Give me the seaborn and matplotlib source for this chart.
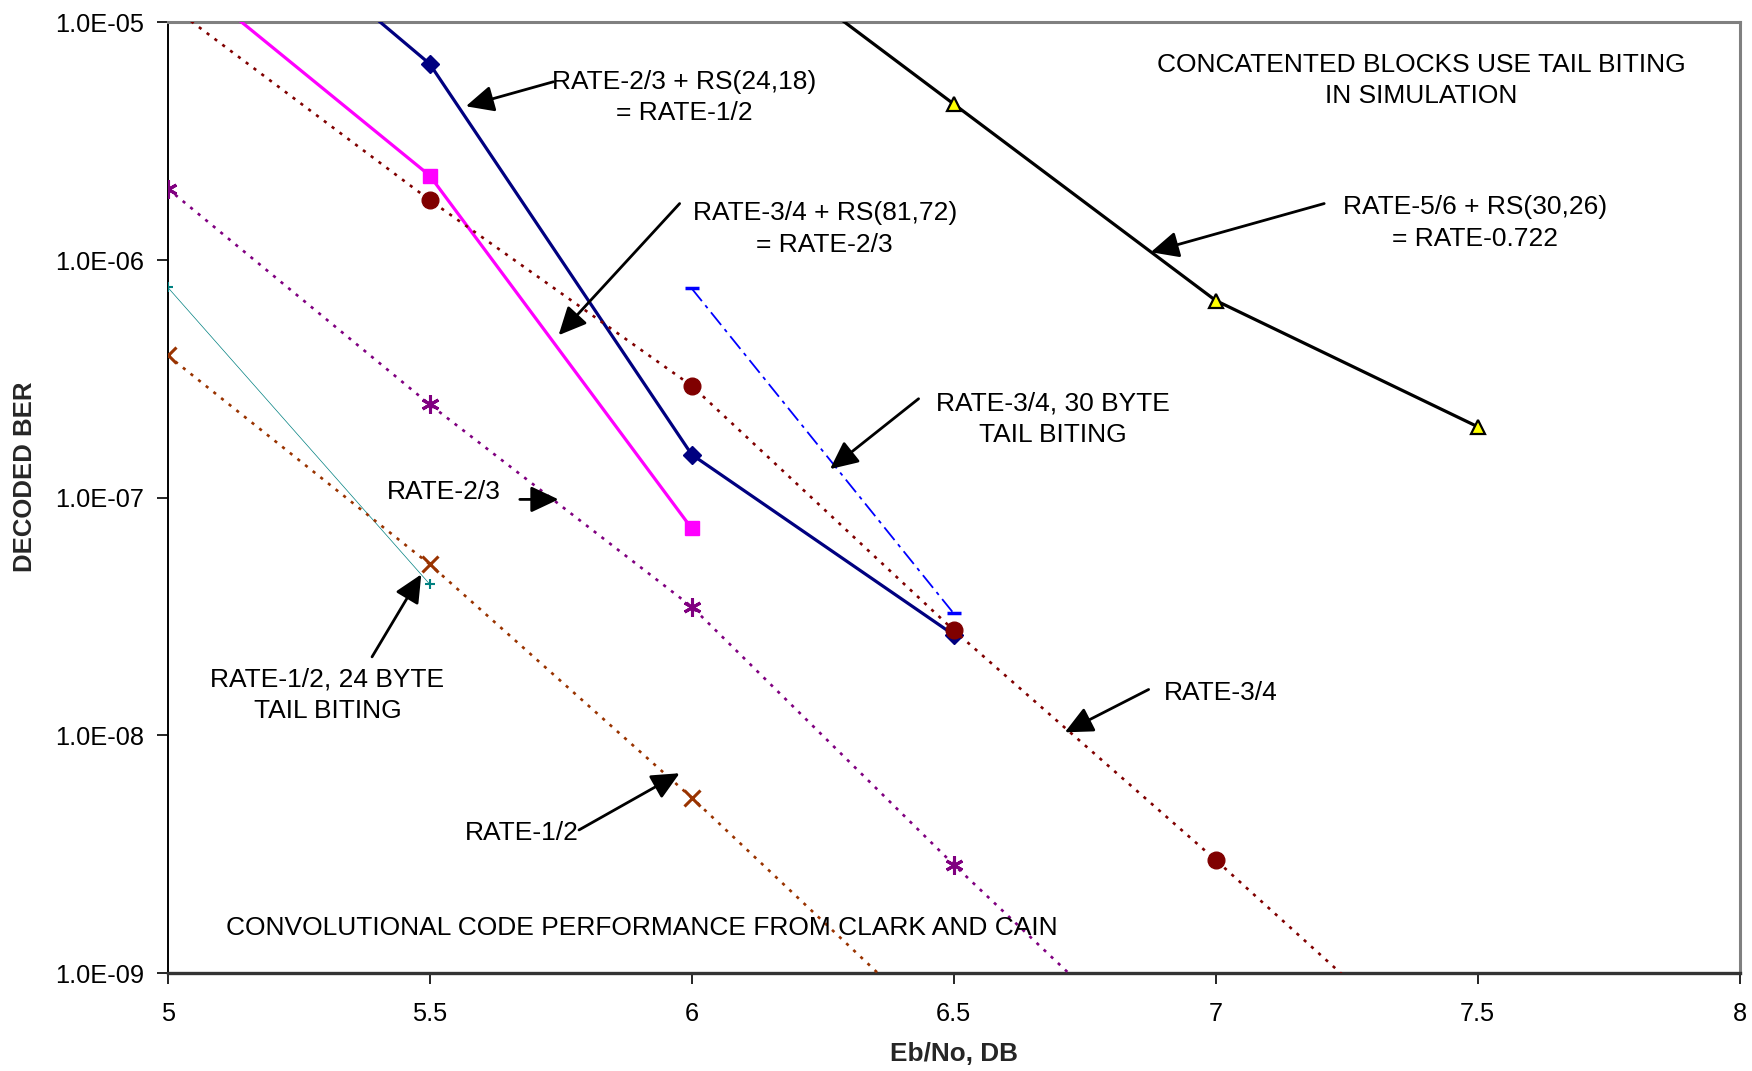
import numpy as np
import pandas as pd
import matplotlib
matplotlib.use("Agg")
import matplotlib.pyplot as plt
import seaborn as sns

# ---------------- data ----------------
# Concatenated (solid) curves
r23_rs_x = [5.0, 5.5, 6.0, 6.5]
r23_rs_y = [5.7e-5, 6.7e-6, 1.52e-7, 2.65e-8]

r34_rs_x = [5.0, 5.5, 6.0]
r34_rs_y = [1.8e-5, 2.27e-6, 7.43e-8]

r56_rs_x = [6.0, 6.5, 7.0, 7.5]
r56_rs_y = [3.05e-5, 4.54e-6, 6.76e-7, 1.99e-7]

# Clark & Cain convolutional code curves (dotted)
r34_x = [5.0, 5.5, 6.0, 6.5, 7.0, 7.5]
r34_y = [1.2e-5, 1.79e-6, 2.96e-7, 2.77e-8, 2.99e-9, 3.0e-10]

r23_x = [5.0, 5.5, 6.0, 6.5, 7.0]
r23_y = [2.0e-6, 2.47e-7, 3.48e-8, 2.86e-9, 2.6e-10]

r12_x = [5.0, 5.5, 6.0, 6.5]
r12_y = [3.97e-7, 5.25e-8, 5.47e-9, 5.0e-10]

# Tail biting simulations
r12_tb_x = [5.0, 5.5]
r12_tb_y = [7.69e-7, 4.33e-8]

r34_tb_x = [6.0, 6.5]
r34_tb_y = [7.6e-7, 3.26e-8]

x_ticks = [5, 5.5, 6, 6.5, 7, 7.5, 8]
x_tick_labels = ["5", "5.5", "6", "6.5", "7", "7.5", "8"]
y_ticks = [1e-9, 1e-8, 1e-7, 1e-6, 1e-5]
y_tick_labels = ["1.0E-09", "1.0E-08", "1.0E-07", "1.0E-06", "1.0E-05"]

# ---------------- style ----------------
sns.set_theme(style="white")
plt.rcParams["font.family"] = ["Liberation Sans", "DejaVu Sans"]

fig = plt.figure(figsize=(17.52, 10.71), dpi=100)
ax = fig.add_axes([0.0957, 0.0915, 0.8973, 0.8875])
ax.set_yscale("log")

def draw(x, y, color, marker, ms, lw, ls, mfc=None, mec=None, mew=1.0, z=3):
    sns.lineplot(x=x, y=y, ax=ax, color=color, marker=marker, markersize=ms,
                 linewidth=lw, linestyle=ls, markerfacecolor=mfc if mfc else color,
                 markeredgecolor=mec if mec else color, markeredgewidth=mew,
                 estimator=None, sort=False, zorder=z)

dot = (0, (1.2, 2.5))
draw(r12_tb_x, r12_tb_y, "#008080", "+", 7, 0.5, "-", mew=1.5)
draw(r12_x, r12_y, "#993300", "x", 11, 1.9, dot, mew=2.2)
draw(r23_x, r23_y, "#800080", (6, 2, 0), 13, 1.9, dot, mew=2.2)
draw(r23_rs_x, r23_rs_y, "#000080", "D", 9, 2.3, "-")
draw(r34_rs_x, r34_rs_y, "#FF00FF", "s", 10, 2.3, "-")
draw(r34_tb_x, r34_tb_y, "#0000FF", "_", 10, 1.3, (0, (9, 3, 2, 3)), mew=2.5)
draw(r34_x, r34_y, "#800000", "o", 12, 1.9, dot)
draw(r56_rs_x, r56_rs_y, "black", "^", 10, 2.3, "-", mfc="yellow", mec="black", mew=1.6)

ax.set_xlim(5, 8)
ax.set_ylim(1e-9, 1e-5)
ax.set_xticks(x_ticks)
ax.set_xticklabels(x_tick_labels)
ax.set_yticks(y_ticks)
ax.set_yticklabels(y_tick_labels)
ax.minorticks_off()
ax.yaxis.set_minor_locator(matplotlib.ticker.NullLocator())
ax.tick_params(axis="both", which="major", direction="out", length=8, width=1.2,
               color="black", labelsize=18.3, labelcolor="black")
ax.tick_params(axis="x", pad=13)
ax.tick_params(axis="y", pad=9)
ax.tick_params(left=True, bottom=True)

for s in ["top", "right"]:
    ax.spines[s].set_color("#808080")
    ax.spines[s].set_linewidth(2.2)
ax.spines["left"].set_color("black")
ax.spines["left"].set_linewidth(1.4)
ax.spines["bottom"].set_color("#333333")
ax.spines["bottom"].set_linewidth(2.4)

ax.set_xlabel("Eb/No, DB", fontsize=18.8, fontweight="bold", va="center")
ax.set_ylabel("DECODED BER", fontsize=18.5, fontweight="bold", va="center")
ax.xaxis.set_label_coords(0.4999, -0.085)
ax.yaxis.set_label_coords(-0.0907, 0.522)

# ---------------- annotations ----------------
fs = 19
texts = [
    (5.985, 4.84e-6, "RATE-2/3 + RS(24,18)\n= RATE-1/2"),
    (6.254, 1.35e-6, "RATE-3/4 + RS(81,72)\n= RATE-2/3"),
    (7.392, 5.7e-6, "CONCATENTED BLOCKS USE TAIL BITING\nIN SIMULATION"),
    (7.495, 1.43e-6, "RATE-5/6 + RS(30,26)\n= RATE-0.722"),
    (6.689, 2.14e-7, "RATE-3/4, 30 BYTE\nTAIL BITING"),
    (5.527, 1.06e-7, "RATE-2/3"),
    (5.305, 1.48e-8, "RATE-1/2, 24 BYTE\nTAIL BITING"),
    (7.009, 1.51e-8, "RATE-3/4"),
    (5.676, 3.87e-9, "RATE-1/2"),
    (5.904, 1.54e-9, "CONVOLUTIONAL CODE PERFORMANCE FROM CLARK AND CAIN"),
]
for tx, ty, s in texts:
    ax.text(tx, ty, s, ha="center", va="center", fontsize=fs, color="black",
            linespacing=1.4, zorder=6)

arrows = [
    ((5.736, 5.63e-6), (5.569, 4.44e-6)),
    ((5.977, 1.73e-6), (5.746, 4.83e-7)),
    ((7.207, 1.73e-6), (6.876, 1.08e-6)),
    ((6.433, 2.61e-7), (6.264, 1.32e-7)),
    ((5.672, 9.84e-8), (5.746, 9.84e-8)),
    ((5.390, 2.14e-8), (5.484, 4.76e-8)),
    ((6.872, 1.56e-8), (6.712, 1.03e-8)),
    ((5.785, 4.0e-9), (5.977, 6.93e-9)),
]
for tail, head in arrows:
    ax.annotate("", xy=head, xytext=tail, xycoords="data", textcoords="data",
                arrowprops=dict(arrowstyle="-|>,head_length=0.85,head_width=0.4",
                                color="black", lw=2.0, shrinkA=0, shrinkB=0,
                                mutation_scale=20),
                zorder=7)

fig.savefig("out.png", dpi=100, facecolor="white")
